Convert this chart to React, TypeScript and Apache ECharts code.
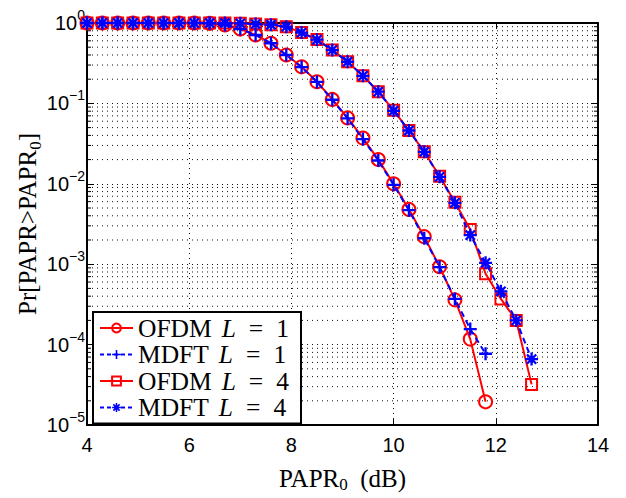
import React, { useEffect, useRef } from 'react';
import * as echarts from 'echarts';

// PAPR0 (dB) sample points
const X_L1 = [4.0, 4.3, 4.6, 4.9, 5.2, 5.5, 5.8, 6.1, 6.4, 6.7, 7.0, 7.3, 7.6, 7.9, 8.2, 8.5, 8.8, 9.1, 9.4, 9.7, 10.0, 10.3, 10.6, 10.9, 11.2, 11.5, 11.8];
const X_L4 = [4.0, 4.3, 4.6, 4.9, 5.2, 5.5, 5.8, 6.1, 6.4, 6.7, 7.0, 7.3, 7.6, 7.9, 8.2, 8.5, 8.8, 9.1, 9.4, 9.7, 10.0, 10.3, 10.6, 10.9, 11.2, 11.5, 11.8, 12.1, 12.4, 12.7];

// Pr[PAPR > PAPR0]
const OFDM_L1 = [1, 1, 1, 1, 1, 1, 1, 1, 0.99, 0.944, 0.84, 0.71, 0.56, 0.40, 0.285, 0.186, 0.112, 0.066, 0.037, 0.020, 0.0100, 0.0048, 0.0022, 0.00093, 0.00036, 0.000117, 0.0000194];
const MDFT_L1 = [1, 1, 1, 1, 1, 1, 1, 1, 0.99, 0.945, 0.84, 0.71, 0.56, 0.40, 0.283, 0.185, 0.111, 0.065, 0.036, 0.0195, 0.0097, 0.0047, 0.0021, 0.00092, 0.00037, 0.000156, 0.000077];
const OFDM_L4 = [1, 1, 1, 1, 1, 1, 1, 1, 1, 1, 0.99, 0.97, 0.95, 0.90, 0.76, 0.625, 0.46, 0.33, 0.22, 0.14, 0.082, 0.046, 0.025, 0.0124, 0.0059, 0.0027, 0.00076, 0.00037, 0.0002, 0.000032];
const MDFT_L4 = [1, 1, 1, 1, 1, 1, 1, 1, 1, 1, 0.99, 0.97, 0.95, 0.90, 0.76, 0.62, 0.46, 0.33, 0.22, 0.14, 0.081, 0.046, 0.025, 0.0122, 0.0058, 0.0023, 0.00104, 0.00046, 0.0002, 0.000066];

const SERIES_NAMES = ['OFDM L=1', 'MDFT L=1', 'OFDM L=4', 'MDFT L=4'];
const LEGEND_RICH: Record<string, string> = {
  'OFDM L=1': '{t|OFDM}{i|L}{e|=}{t|1}',
  'MDFT L=1': '{t|MDFT}{i|L}{e|=}{t|1}',
  'OFDM L=4': '{t|OFDM}{i|L}{e|=}{t|4}',
  'MDFT L=4': '{t|MDFT}{i|L}{e|=}{t|4}',
};

const X_MIN = 4;
const X_MAX = 14;
const X_INTERVAL = 2;
const Y_MIN = 1e-5;
const Y_MAX = 1;
const Y_DECADES = [1e-5, 1e-4, 1e-3, 1e-2, 1e-1];
const MINOR_MANTISSAS = [2, 3, 4, 5, 6, 7, 8, 9];

const X_NAME = '{a|PAPR}{s|0}{a|  (dB)}';
const Y_NAME = '{a|Pr[PAPR>PAPR}{s|0}{a|]}';

const SYM_PLUS = 'path://M4.1,0H5.9V4.1H10V5.9H5.9V10H4.1V5.9H0V4.1H4.1Z';
const SYM_AST =
  'path://M0,4.1H10V5.9H0Z M4.1,0H5.9V10H4.1Z M2.1,0.82L9.18,7.9L7.9,9.18L0.82,2.1Z M9.18,2.1L2.1,9.18L0.82,7.9L7.9,0.82Z';

const RED = '#ff0000';
const BLUE = '#0000ff';
const SERIF = 'Liberation Serif';
const SANS = 'Liberation Sans';

function zip(xs: number[], ys: number[]) {
  return ys.map((y, i) => [xs[i], y]);
}

export default function App() {
  const ref = useRef<HTMLDivElement>(null);

  useEffect(() => {
    if (!ref.current) return;
    const chart = echarts.init(ref.current, null, { renderer: 'svg' });

    const minorValues: number[][] = [];
    Y_DECADES.forEach((d) => MINOR_MANTISSAS.forEach((m) => minorValues.push([X_MIN, m * d])));

    const axisLineStyle = { color: '#000', width: 2 };
    const gridStyle = { color: '#111', type: [1, 4] as any, width: 1 };
    const yNameRich = {
      a: { fontFamily: SERIF, fontSize: 25, color: '#000' },
      s: { fontFamily: SERIF, fontSize: 17, color: '#000', padding: [17, 0, 0, 0] },
    };
    const xNameRich = {
      a: { fontFamily: SERIF, fontSize: 25, color: '#000' },
      s: { fontFamily: SERIF, fontSize: 17, color: '#000', padding: [12, 0, 0, 0] },
    };

    const option: any = {
      animation: false,
      backgroundColor: '#fff',
      textStyle: { fontFamily: SANS },
      grid: { left: 87, right: 28, top: 23, bottom: 73, containLabel: false, outerBoundsMode: 'none' },
      xAxis: [
        {
          type: 'value',
          min: X_MIN,
          max: X_MAX,
          interval: X_INTERVAL,
          position: 'bottom',
          axisLine: { show: true, onZero: false, lineStyle: axisLineStyle },
          axisTick: { show: true, inside: true, length: 6, lineStyle: { color: '#000', width: 1 } },
          axisLabel: { margin: 10, fontSize: 20, fontFamily: SANS, color: '#000' },
          splitLine: { show: true, lineStyle: gridStyle },
          name: X_NAME,
          nameLocation: 'middle',
          nameGap: 39,
          nameMoveOverlap: false,
          nameTextStyle: { fontFamily: SERIF, fontSize: 25, rich: xNameRich },
        },
        {
          type: 'value',
          min: X_MIN,
          max: X_MAX,
          interval: X_INTERVAL,
          position: 'top',
          axisLine: { show: true, onZero: false, lineStyle: axisLineStyle },
          axisTick: { show: true, inside: true, length: 6, lineStyle: { color: '#000', width: 1 } },
          axisLabel: { show: false },
          splitLine: { show: false },
        },
      ],
      yAxis: [
        {
          type: 'log',
          logBase: 10,
          min: Y_MIN,
          max: Y_MAX,
          position: 'left',
          axisLine: { show: true, onZero: false, lineStyle: axisLineStyle },
          axisTick: { show: true, inside: true, length: 7, lineStyle: { color: '#000', width: 1 } },
          axisLabel: {
            margin: 2,
            fontFamily: SANS,
            fontSize: 20,
            formatter: (v: number) => {
              const e = Math.round(Math.log10(v));
              const s = e < 0 ? '\u2212' + Math.abs(e) : String(e);
              return '{b|10}{s|' + s + '}';
            },
            rich: {
              b: { fontFamily: SANS, fontSize: 20, color: '#000' },
              s: { fontFamily: SANS, fontSize: 14, color: '#000', padding: [0, 0, 16, 0] },
            },
          },
          splitLine: { show: true, lineStyle: gridStyle },
          name: Y_NAME,
          nameLocation: 'middle',
          nameGap: 43,
          nameMoveOverlap: false,
          nameRotate: 90,
          nameTextStyle: { fontFamily: SERIF, fontSize: 25, rich: yNameRich },
        },
        {
          type: 'log',
          logBase: 10,
          min: Y_MIN,
          max: Y_MAX,
          position: 'right',
          axisLine: { show: true, onZero: false, lineStyle: axisLineStyle },
          axisTick: { show: true, inside: true, length: 7, lineStyle: { color: '#000', width: 1 } },
          axisLabel: { show: false },
          splitLine: { show: false },
        },
      ],
      legend: {
        orient: 'vertical',
        left: 93,
        top: 312,
        itemWidth: 33,
        itemHeight: 11,
        itemGap: 0.5,
        padding: [3, 12, 3, 6],
        backgroundColor: '#fff',
        borderColor: '#000',
        borderWidth: 2,
        borderRadius: 0,
        data: [
          { name: SERIES_NAMES[0], itemStyle: { color: 'rgba(255,255,255,0)', borderColor: RED, borderWidth: 2 }, lineStyle: { color: RED, width: 2, type: 'solid' } },
          { name: SERIES_NAMES[1], itemStyle: { color: BLUE, borderWidth: 0 }, lineStyle: { color: BLUE, width: 2, type: [4, 3] } },
          { name: SERIES_NAMES[2], itemStyle: { color: 'rgba(255,255,255,0)', borderColor: RED, borderWidth: 2 }, lineStyle: { color: RED, width: 2, type: 'solid' } },
          { name: SERIES_NAMES[3], itemStyle: { color: BLUE, borderWidth: 0 }, lineStyle: { color: BLUE, width: 2, type: [4, 3] } },
        ],
        formatter: (name: string) => LEGEND_RICH[name] || name,
        textStyle: {
          color: '#000',
          fontFamily: SERIF,
          fontSize: 25.5,
          rich: {
            t: { fontFamily: SERIF, fontSize: 25.5, lineHeight: 25, color: '#000' },
            i: { fontFamily: SERIF, fontSize: 25.5, lineHeight: 25, fontStyle: 'italic', color: '#000', padding: [0, 0, 0, 10] },
            e: { fontFamily: SERIF, fontSize: 25.5, lineHeight: 25, color: '#000', padding: [0, 13, 0, 13] },
          },
        },
      },
      series: [
        {
          type: 'custom',
          name: 'minor-grid',
          xAxisIndex: 0,
          yAxisIndex: 0,
          silent: true,
          z: 1,
          data: minorValues,
          encode: { x: 0, y: 1 },
          renderItem: (params: any, api: any) => {
            const v = api.value(1);
            const a = api.coord([X_MIN, v]);
            const b = api.coord([X_MAX, v]);
            return {
              type: 'group',
              children: [
                { type: 'line', shape: { x1: a[0], y1: a[1], x2: b[0], y2: b[1] }, style: { stroke: '#111', lineWidth: 1, lineDash: [1, 4] } },
                { type: 'line', shape: { x1: a[0], y1: a[1], x2: a[0] + 4, y2: a[1] }, style: { stroke: '#000', lineWidth: 1 } },
                { type: 'line', shape: { x1: b[0] - 4, y1: b[1], x2: b[0], y2: b[1] }, style: { stroke: '#000', lineWidth: 1 } },
              ],
            };
          },
        },
        {
          name: SERIES_NAMES[0],
          type: 'line',
          data: zip(X_L1, OFDM_L1),
          clip: false,
          z: 3,
          symbol: 'circle',
          symbolSize: 13,
          lineStyle: { color: RED, width: 2, type: 'solid' },
          itemStyle: { color: 'rgba(255,255,255,0)', borderColor: RED, borderWidth: 2 },
        },
        {
          name: SERIES_NAMES[1],
          type: 'line',
          data: zip(X_L1, MDFT_L1),
          clip: false,
          z: 4,
          symbol: SYM_PLUS,
          symbolSize: 13,
          lineStyle: { color: BLUE, width: 2, type: [6, 4] },
          itemStyle: { color: BLUE, borderWidth: 0 },
        },
        {
          name: SERIES_NAMES[2],
          type: 'line',
          data: zip(X_L4, OFDM_L4),
          clip: false,
          z: 3,
          symbol: 'rect',
          symbolSize: 11,
          lineStyle: { color: RED, width: 2, type: 'solid' },
          itemStyle: { color: 'rgba(255,255,255,0)', borderColor: RED, borderWidth: 2 },
        },
        {
          name: SERIES_NAMES[3],
          type: 'line',
          data: zip(X_L4, MDFT_L4),
          clip: false,
          z: 4,
          symbol: SYM_AST,
          symbolSize: 13,
          lineStyle: { color: BLUE, width: 2, type: [6, 4] },
          itemStyle: { color: BLUE, borderWidth: 0 },
        },
      ],
    };

    chart.setOption(option);
    return () => chart.dispose();
  }, []);

  return (
    <div
      ref={ref}
      style={{ position: 'fixed', left: 0, top: 0, width: 626, height: 498, background: '#fff' }}
    />
  );
}
